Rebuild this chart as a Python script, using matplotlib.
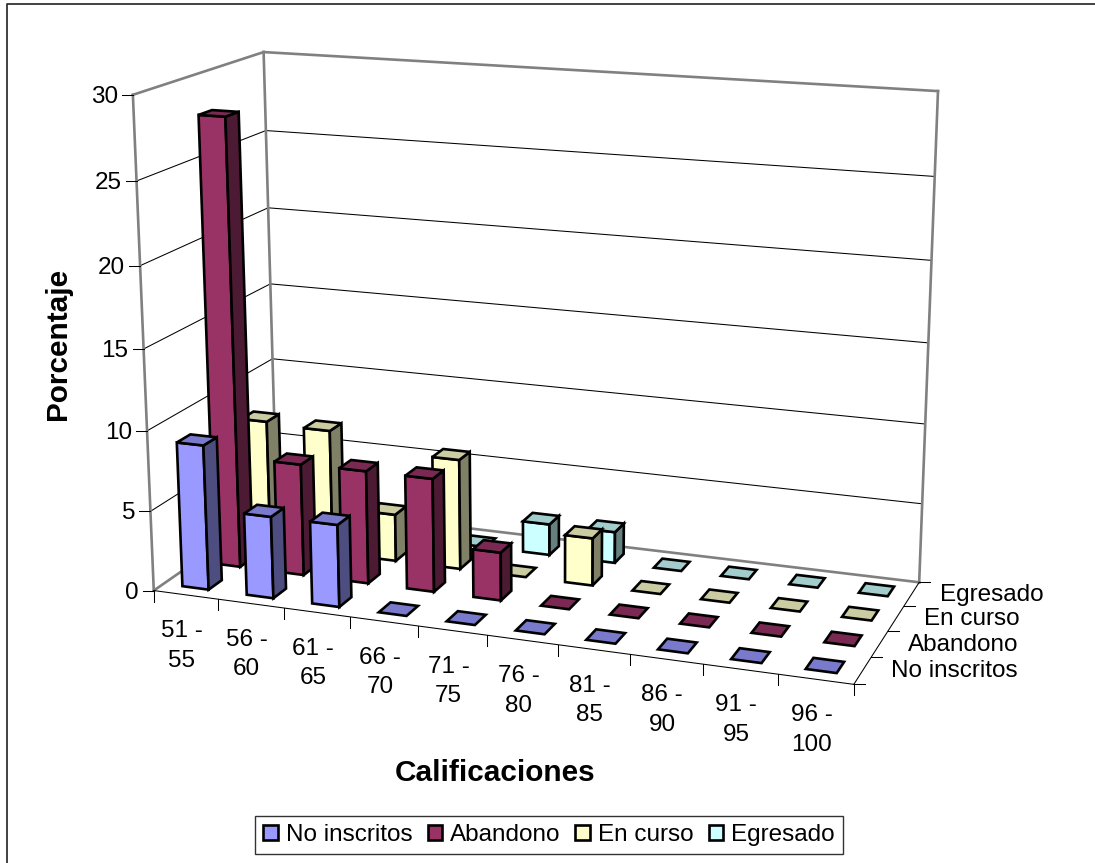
import numpy as np
import matplotlib
matplotlib.use("Agg")
import matplotlib.pyplot as plt
from matplotlib.patches import Polygon, Patch

plt.rcParams['font.family'] = ['Liberation Sans', 'DejaVu Sans']

categories = ["51 -\n55", "56 -\n60", "61 -\n65", "66 -\n70", "71 -\n75",
              "76 -\n80", "81 -\n85", "86 -\n90", "91 -\n95", "96 -\n100"]
series_names = ["No inscritos", "Abandono", "En curso", "Egresado"]
no_inscritos = [9.05, 5.1, 5.1, 0, 0, 0, 0, 0, 0, 0]
abandono     = [28.0, 7.05, 7.1, 7.1, 3.0, 0, 0, 0, 0, 0]
en_curso     = [8.1, 7.95, 3.0, 7.0, 0, 3.0, 0, 0, 0, 0]
egresado     = [0, 0, 0, 0, 2.0, 2.0, 0, 0, 0, 0]
series_values = [no_inscritos, abandono, en_curso, egresado]
z_ticks = [0, 5, 10, 15, 20, 25, 30]
colors = ["#9999FF", "#993366", "#FFFFCC", "#CCFFFF"]

# camera calibration: box corners (category, series, value) -> figure pixels
world = [(0, 0, 0), (10, 0, 0), (10, 4, 0), (0, 4, 0), (0, 0, 30), (0, 4, 30), (10, 4, 30)]
pix = [(153.5, 590.7), (854, 684), (919, 582.7), (277, 505), (133, 95), (263.5, 52), (938, 91)]
A, b = [], []
for (X, Y, Z), (u, v) in zip(world, pix):
    A.append([X, Y, Z, 1, 0, 0, 0, 0, -u*X, -u*Y, -u*Z]); b.append(u)
    A.append([0, 0, 0, 0, X, Y, Z, 1, -v*X, -v*Y, -v*Z]); b.append(v)
P = np.append(np.linalg.lstsq(np.array(A, float), np.array(b, float), rcond=None)[0], 1).reshape(3, 4)


def proj(x, y, z):
    w = P @ np.array([x, y, z, 1.0])
    return w[0] / w[2], w[1] / w[2]


def shade(hex_color, f):
    c = np.array(matplotlib.colors.to_rgb(hex_color)) * f
    return tuple(c)


fig = plt.figure(figsize=(10.95, 8.63), dpi=100, facecolor="white")
ax = fig.add_axes([0, 0, 1, 1])
ax.set_xlim(0, 1095)
ax.set_ylim(863, 0)
ax.axis("off")

GRAY = "#808080"
FS = 17.5


def line3(a, b, color="black", lw=0.75, z=1):
    p, q = proj(*a), proj(*b)
    ax.plot([p[0], q[0]], [p[1], q[1]], color=color, lw=lw, zorder=z, solid_capstyle="projecting")


# chart area border (only top and left fall inside the picture)
ax.plot([6.5, 6.5, 1095], [863, 4, 4], color="#333333", lw=1.3, zorder=1)

# gridlines on walls
for t in z_ticks[1:-1]:
    line3((0, 0, t), (0, 4, t))
    line3((0, 4, t), (10, 4, t))

# walls
for a, b_ in [((0, 0, 0), (0, 0, 30)), ((0, 0, 30), (0, 4, 30)), ((0, 4, 30), (0, 4, 0)),
              ((0, 4, 30), (10, 4, 30)), ((10, 4, 30), (10, 4, 0)), ((0, 4, 0), (10, 4, 0)),
              ((0, 0, 0), (0, 4, 0))]:
    line3(a, b_, color=GRAY, lw=1.9, z=2)
# floor front edges
line3((0, 0, 0), (10, 0, 0), z=3)
line3((10, 0, 0), (10, 4, 0), z=3)

# ticks
for t in z_ticks:
    u, v = proj(0, 0, t)
    ax.plot([u - 11, u], [v, v], color="black", lw=0.75, zorder=3)
    ax.text(u - 15, v + 2, str(t), ha="right", va="center", fontsize=FS, color="black")
for i in range(11):
    u, v = proj(i, 0, 0)
    ax.plot([u, u], [v, v + 11], color="black", lw=0.75, zorder=3)
for j in range(5):
    u, v = proj(10, j, 0)
    ax.plot([u, u + 11], [v, v], color="black", lw=0.75, zorder=3)

# category and series labels
for i, lab in enumerate(categories):
    u, v = proj(i + 0.5, 0, 0)
    ax.text(u - 4, v + 51, lab, ha="center", va="center", fontsize=FS, linespacing=1.45,
            color="black")
for j, lab in enumerate(series_names):
    u, v = proj(10, j + 0.5, 0)
    ax.text(u + 28, v + 1, lab, ha="left", va="center", fontsize=FS, color="black")

# bars
w = 0.41
zo = 10
for j in range(3, -1, -1):
    col = colors[j]
    for i in range(10):
        h = series_values[j][i]
        x0, x1 = i + 0.5 - w / 2, i + 0.5 + w / 2
        y0, y1 = j + 0.5 - w / 2, j + 0.5 + w / 2
        faces = []
        if h > 0:
            faces.append(([(x0, y0, 0), (x1, y0, 0), (x1, y0, h), (x0, y0, h)], 1.0))
            faces.append(([(x1, y0, 0), (x1, y1, 0), (x1, y1, h), (x1, y0, h)], 0.5))
        faces.append(([(x0, y0, h), (x1, y0, h), (x1, y1, h), (x0, y1, h)], 0.8))
        for pts, f in faces:
            ax.add_patch(Polygon([proj(*p) for p in pts], closed=True, facecolor=shade(col, f),
                                 edgecolor="black", lw=1.9, joinstyle="miter", zorder=zo))
            zo += 1

# axis titles
ax.text(58, 344, "Porcentaje", rotation=90, ha="center", va="center", fontsize=21.4, fontweight="bold")
ax.text(495, 773, "Calificaciones", ha="center", va="center", fontsize=21.4, fontweight="bold")

# legend
handles = [Patch(facecolor=c, edgecolor="black", lw=1.9) for c in colors]
leg = ax.legend(handles, series_names, ncol=4, loc="center", bbox_to_anchor=(549 / 1095, 1 - 835 / 863),
                bbox_transform=fig.transFigure, fontsize=FS, frameon=True, fancybox=False,
                edgecolor="#333333", facecolor="white", framealpha=1, handlelength=0.58,
                handleheight=0.58, handletextpad=0.34, columnspacing=0.62, borderpad=0.33,
                borderaxespad=0)
leg.get_frame().set_linewidth(1.0)
leg.set_zorder(100)

fig.savefig("out.png", dpi=100, facecolor="white")
